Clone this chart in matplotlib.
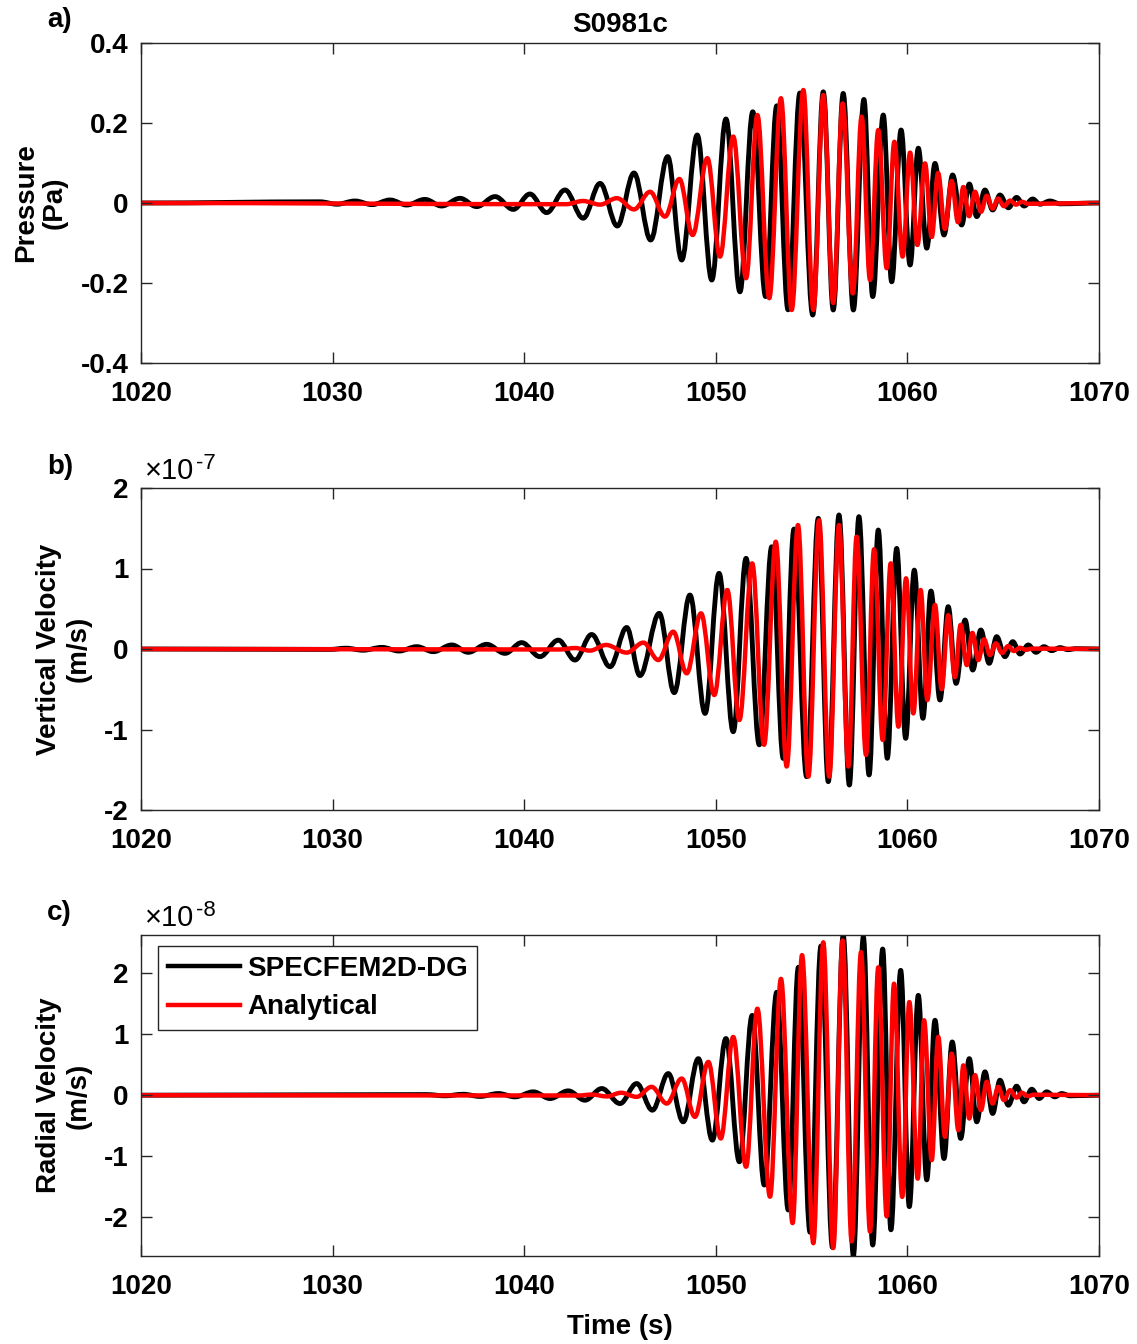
import matplotlib
matplotlib.use('Agg')
import matplotlib.pyplot as plt
from matplotlib.path import Path
from matplotlib.patches import PathPatch
from matplotlib.lines import Line2D

plt.rcParams['font.family'] = ['Liberation Sans', 'DejaVu Sans']
plt.rcParams['font.weight'] = 'bold'

# ---------------- data (extrema of each trace) ----------------
x_ticks = [1020, 1030, 1040, 1050, 1060, 1070]
x_tick_labels = ['1020', '1030', '1040', '1050', '1060', '1070']
ya_ticks = [-0.4, -0.2, 0, 0.2, 0.4]
ya_tick_labels = ['-0.4', '-0.2', '0', '0.2', '0.4']
yb_ticks = [-2, -1, 0, 1, 2]
yb_tick_labels = ['-2', '-1', '0', '1', '2']
yc_ticks = [-2, -1, 0, 1, 2]
yc_tick_labels = ['-2', '-1', '0', '1', '2']
series_names = ['SPECFEM2D-DG', 'Analytical']
panel_titles = ['S0981c']
ylabels = ['Pressure\n(Pa)', 'Vertical Velocity\n(m/s)', 'Radial Velocity\n(m/s)']
exponents = [None, '-7', '-8']

# Panel a: pressure (Pa)
a_blk_t = [1020.0, 1029.34, 1030.23, 1031.17, 1032.06, 1033.00, 1033.87, 1034.82, 1035.69, 1036.65,
           1037.52, 1038.48, 1039.43, 1040.30, 1041.17, 1042.13, 1043.08, 1043.96, 1044.86, 1045.73,
           1046.60, 1047.49, 1048.22, 1049.03, 1049.79, 1050.53, 1051.26, 1051.93, 1052.60, 1053.18,
           1053.77, 1054.39, 1055.06, 1055.61, 1056.13, 1056.65, 1057.18, 1057.73, 1058.19, 1058.74,
           1059.18, 1059.67, 1060.14, 1060.57, 1061.01, 1061.44, 1061.91, 1062.36, 1062.83, 1063.23,
           1063.62, 1064.05, 1064.45, 1064.83, 1065.27, 1065.70, 1066.09, 1066.54, 1066.92, 1067.44,
           1067.97, 1070.0]
a_blk_v = [0.0, 0.003, -0.003, 0.005, -0.004, 0.0075, -0.005, 0.009, -0.0075, 0.0117,
           -0.009, 0.016, -0.016, 0.0225, -0.024, 0.0325, -0.038, 0.049, -0.0575, 0.075,
           -0.0925, 0.116, -0.1425, 0.17, -0.1925, 0.21, -0.222, 0.228, -0.234, 0.243,
           -0.267, 0.275, -0.28, 0.278, -0.2675, 0.274, -0.2675, 0.259, -0.234, 0.22,
           -0.197, 0.1825, -0.155, 0.137, -0.113, 0.099, -0.08, 0.07, -0.055, 0.0475,
           -0.034, 0.0325, -0.0175, 0.02, -0.012, 0.014, -0.0075, 0.01, -0.003, 0.005,
           -0.002, 0.0]
a_red_t = [1020.0, 1042.18, 1043.07, 1043.96, 1044.84, 1045.73, 1046.57, 1047.35, 1048.10, 1048.79,
           1049.56, 1050.22, 1050.91, 1051.58, 1052.17, 1052.79, 1053.40, 1053.96, 1054.57, 1055.09,
           1055.61, 1056.13, 1056.62, 1057.15, 1057.61, 1058.05, 1058.48, 1058.92, 1059.32, 1059.75,
           1060.14, 1060.52, 1060.92, 1061.27, 1061.60, 1061.96, 1062.31, 1062.64, 1062.92, 1063.22,
           1063.53, 1063.84, 1064.14, 1064.45, 1064.73, 1065.04, 1065.36, 1065.67, 1065.98, 1066.29,
           1070.0]
a_red_v = [0.0, -0.003, 0.005, -0.004, 0.012, -0.016, 0.028, -0.034, 0.06, -0.08,
           0.112, -0.134, 0.166, -0.188, 0.22, -0.238, 0.262, -0.2675, 0.2825, -0.2675,
           0.27, -0.25, 0.249, -0.226, 0.216, -0.1925, 0.1825, -0.163, 0.153, -0.134,
           0.126, -0.105, 0.099, -0.085, 0.075, -0.065, 0.055, -0.048, 0.04, -0.033,
           0.028, -0.022, 0.018, -0.014, 0.011, -0.008, 0.006, -0.004, 0.003, -0.002,
           0.0]

# Panel b: vertical velocity (x 1e-7 m/s)
b_blk_t = [1020.0, 1029.86, 1030.70, 1031.59, 1032.58, 1033.47, 1034.39, 1035.26, 1036.22, 1037.08,
           1038.04, 1039.00, 1039.87, 1040.82, 1041.78, 1042.65, 1043.52, 1044.48, 1045.35, 1046.04,
           1047.05, 1047.83, 1048.65, 1049.44, 1050.17, 1050.91, 1051.58, 1052.27, 1052.92, 1053.52,
           1054.08, 1054.74, 1055.35, 1055.87, 1056.43, 1056.97, 1057.47, 1058.00, 1058.48, 1058.95,
           1059.44, 1059.91, 1060.36, 1060.81, 1061.23, 1061.70, 1062.13, 1062.54, 1063.01, 1063.41,
           1063.83, 1064.27, 1064.66, 1065.09, 1065.50, 1065.88, 1066.31, 1066.71, 1067.13, 1067.53,
           1067.97, 1068.38, 1068.80, 1070.0]
b_blk_v = [0.0, -0.005, 0.01, -0.015, 0.02, -0.025, 0.029, -0.033, 0.05, -0.041,
           0.058, -0.054, 0.079, -0.095, 0.11, -0.137, 0.18, -0.22, 0.267, -0.33,
           0.443, -0.542, 0.67, -0.8, 0.94, -1.027, 1.126, -1.19, 1.27, -1.36,
           1.49, -1.586, 1.623, -1.648, 1.665, -1.69, 1.644, -1.565, 1.478, -1.358,
           1.25, -1.11, 0.98, -0.861, 0.72, -0.634, 0.526, -0.427, 0.36, -0.261,
           0.236, -0.178, 0.153, -0.095, 0.091, -0.062, 0.05, -0.041, 0.029, -0.02,
           0.017, -0.008, 0.004, 0.0]
b_red_t = [1020.0, 1041.87, 1042.65, 1043.43, 1044.27, 1045.35, 1046.22, 1047.00, 1047.78, 1048.48,
           1049.23, 1049.92, 1050.60, 1051.23, 1051.90, 1052.52, 1053.13, 1053.70, 1054.29, 1054.83,
           1055.39, 1055.92, 1056.43, 1056.92, 1057.35, 1057.84, 1058.26, 1058.71, 1059.13, 1059.53,
           1059.93, 1060.31, 1060.69, 1061.04, 1061.44, 1061.79, 1062.13, 1062.48, 1062.78, 1063.10,
           1063.39, 1063.70, 1064.00, 1064.31, 1064.62, 1064.94, 1065.25, 1065.56, 1065.88, 1066.19,
           1066.50, 1070.0]
b_red_v = [0.0, -0.006, 0.012, -0.02, 0.05, -0.045, 0.079, -0.137, 0.215, -0.302,
           0.443, -0.571, 0.733, -0.882, 1.064, -1.19, 1.333, -1.46, 1.54, -1.586,
           1.6, -1.586, 1.54, -1.46, 1.395, -1.317, 1.24, -1.13, 1.064, -0.965,
           0.878, -0.8, 0.733, -0.634, 0.547, -0.5, 0.42, -0.35, 0.3, -0.2,
           0.2, -0.137, 0.12, -0.075, 0.07, -0.05, 0.035, -0.025, 0.015, -0.01,
           0.005, 0.0]

# Panel c: radial velocity (x 1e-8 m/s)
c_blk_t = [1020.0, 1034.91, 1035.87, 1036.82, 1037.69, 1038.65, 1039.52, 1040.48, 1041.35, 1042.30,
           1043.17, 1044.05, 1045.00, 1045.87, 1046.69, 1047.52, 1048.30, 1049.09, 1049.82, 1050.53,
           1051.23, 1051.90, 1052.53, 1053.18, 1053.78, 1054.31, 1054.92, 1055.49, 1056.09, 1056.65,
           1057.18, 1057.70, 1058.19, 1058.71, 1059.14, 1059.65, 1060.10, 1060.57, 1061.01, 1061.44,
           1061.91, 1062.34, 1062.78, 1063.23, 1063.62, 1064.05, 1064.45, 1064.83, 1065.27, 1065.70,
           1066.09, 1066.49, 1066.88, 1067.27, 1067.70, 1068.05, 1068.49, 1070.0]
c_blk_v = [0.0, 0.01, -0.01, 0.015, -0.02, 0.027, -0.027, 0.055, -0.055, 0.071,
           -0.082, 0.109, -0.137, 0.191, -0.246, 0.355, -0.437, 0.6, -0.738, 0.93,
           -1.093, 1.31, -1.475, 1.69, -1.885, 2.1, -2.25, 2.45, -2.5, 2.63,
           -2.64, 2.6, -2.46, 2.4, -2.21, 2.05, -1.83, 1.64, -1.39, 1.23,
           -1.04, 0.874, -0.71, 0.6, -0.437, 0.383, -0.3, 0.246, -0.164, 0.148,
           -0.109, 0.098, -0.055, 0.055, -0.027, 0.027, -0.01, 0.0]
c_red_t = [1020.0, 1042.81, 1043.54, 1044.32, 1045.05, 1045.87, 1046.65, 1047.44, 1048.22, 1048.91,
           1049.61, 1050.26, 1050.91, 1051.58, 1052.17, 1052.83, 1053.40, 1054.01, 1054.50, 1055.09,
           1055.61, 1056.13, 1056.62, 1057.09, 1057.58, 1058.05, 1058.48, 1058.92, 1059.30, 1059.73,
           1060.10, 1060.54, 1060.87, 1061.27, 1061.61, 1061.96, 1062.31, 1062.66, 1062.92, 1063.23,
           1063.53, 1063.84, 1064.14, 1064.45, 1064.74, 1065.04, 1065.36, 1065.70, 1065.97, 1066.29,
           1066.61, 1070.0]
c_red_v = [0.0, -0.005, 0.01, -0.02, 0.04, -0.027, 0.137, -0.137, 0.273, -0.355,
           0.546, -0.71, 0.956, -1.175, 1.42, -1.667, 1.91, -2.1, 2.3, -2.43,
           2.51, -2.51, 2.54, -2.4, 2.35, -2.24, 2.1, -1.99, 1.83, -1.67,
           1.53, -1.37, 1.23, -1.066, 0.956, -0.683, 0.683, -0.574, 0.49, -0.383,
           0.33, -0.246, 0.22, -0.137, 0.137, -0.08, 0.082, -0.04, 0.04, -0.015,
           0.008, 0.0]

# ---------------- helpers ----------------
def smooth_path(t, v, k=0.3642):
    """Cubic Bezier through successive extrema with flat tangents at each extremum."""
    verts = [(t[0], v[0])]
    codes = [Path.MOVETO]
    for i in range(len(t) - 1):
        dt = t[i + 1] - t[i]
        verts += [(t[i] + k * dt, v[i]), (t[i + 1] - k * dt, v[i + 1]), (t[i + 1], v[i + 1])]
        codes += [Path.CURVE4] * 3
    return Path(verts, codes)


def draw_trace(ax, t, v, color, lw):
    patch = PathPatch(smooth_path(t, v), fill=False, edgecolor=color, lw=lw,
                      joinstyle='round', capstyle='round')
    ax.add_patch(patch)


FS = 20
W, H = 1137, 1344
fig = plt.figure(figsize=(W / 100, H / 100), dpi=100)

left = 141 / W
width = 958 / W
rects = [(left, 1 - 363 / H, width, 320 / H),
         (left, 1 - 810 / H, width, 322 / H),
         (left, 1 - 1256 / H, width, 321 / H)]

panels = [
    (a_blk_t, a_blk_v, a_red_t, a_red_v, (-0.4, 0.4), ya_ticks, ya_tick_labels),
    (b_blk_t, b_blk_v, b_red_t, b_red_v, (-2, 2), yb_ticks, yb_tick_labels),
    (c_blk_t, c_blk_v, c_red_t, c_red_v, (-2.64, 2.63), yc_ticks, yc_tick_labels),
]

axes = []
for i, (rect, p) in enumerate(zip(rects, panels)):
    bt, bv, rt, rv, ylim, yt, ytl = p
    ax = fig.add_axes(rect)
    draw_trace(ax, bt, bv, 'black', 3.5)
    draw_trace(ax, rt, rv, '#ff0000', 3.2)
    ax.set_xlim(1020, 1070)
    ax.set_ylim(*ylim)
    ax.set_xticks(x_ticks)
    ax.set_xticklabels(x_tick_labels)
    ax.set_yticks(yt)
    ax.set_yticklabels(ytl)
    ax.tick_params(direction='in', length=8, width=1, top=True, right=True,
                   labelsize=FS, colors='#262626', labelcolor='black')
    ax.tick_params(axis='x', pad=13)
    ax.tick_params(axis='y', pad=9)
    for lab in ax.get_xticklabels() + ax.get_yticklabels():
        lab.set_fontweight('bold')
    for s in ax.spines.values():
        s.set_linewidth(1.0)
        s.set_color('#262626')
    ax.set_ylabel(ylabels[i], fontsize=FS, fontweight='bold', labelpad=9, linespacing=1.15)
    if exponents[i] is not None:
        ax.text(0.004, 1.028, '\u00d710', transform=ax.transAxes, fontsize=21,
                fontweight='normal', va='baseline', ha='left')
        ax.text(0.057, 1.058, exponents[i], transform=ax.transAxes, fontsize=16,
                fontweight='normal', va='baseline', ha='left')
    axes.append(ax)

axes[0].set_title(panel_titles[0], fontsize=FS, fontweight='bold', pad=8)
axes[2].set_xlabel('Time (s)', fontsize=FS, fontweight='bold', labelpad=10)

for lab, yc in zip(['a)', 'b)', 'c)'], [20, 467, 913]):
    fig.text(47 / W, 1 - yc / H, lab, fontsize=FS, fontweight='bold', va='center', ha='left')

handles = [Line2D([], [], color='black', lw=3.2), Line2D([], [], color='#ff0000', lw=3.2)]
leg = axes[2].legend(handles, series_names, loc='upper left',
                     bbox_to_anchor=((158 - 141) / 958, (1256 - 946) / 321),
                     borderaxespad=0, fancybox=False, framealpha=1, edgecolor='#262626',
                     prop={'size': FS, 'weight': 'bold'}, handlelength=2.6,
                     handletextpad=0.25, labelspacing=0.45, borderpad=0.35)
leg.get_frame().set_linewidth(1.0)

fig.savefig('out.png', dpi=100)
